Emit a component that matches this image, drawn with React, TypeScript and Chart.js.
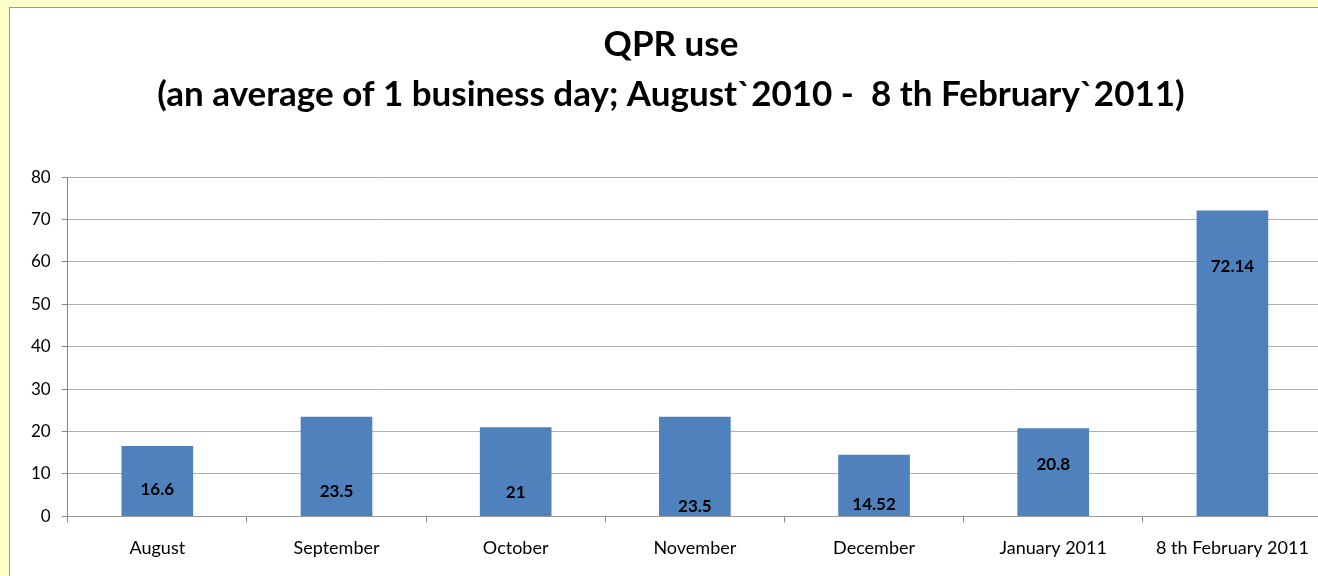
import React, { useEffect, useRef } from "react";
import { Chart, registerables } from "chart.js";

Chart.register(...registerables);

const categories = ["August", "September", "October", "November", "December", "January 2011", "8 th February 2011"];
const usage = [16.6, 23.5, 21, 23.5, 14.52, 20.8, 72.14];
const valueLabels = ["16.6", "23.5", "21", "23.5", "14.52", "20.8", "72.14"];
// vertical anchor of each value label, in data units
const labelAnchors = [6.4, 5.9, 5.7, 2.4, 2.8, 12.3, 59];
const titleLines = ["QPR use", "(an average of 1 business day; August`2010 -  8 th February`2011)"];

const FONT = "Lato, 'Open Sans', sans-serif";

const labelPlugin = {
  id: "valueLabels",
  afterDatasetsDraw(chart: any) {
    const { ctx } = chart;
    const meta = chart.getDatasetMeta(0);
    const yScale = chart.scales.y;
    ctx.save();
    ctx.font = `bold 17px ${FONT}`;
    ctx.fillStyle = "#000";
    ctx.textAlign = "center";
    ctx.textBaseline = "middle";
    meta.data.forEach((bar: any, i: number) => {
      ctx.fillText(valueLabels[i], bar.x, yScale.getPixelForValue(labelAnchors[i]));
    });
    ctx.restore();
  },
};

export default function App() {
  const ref = useRef<HTMLCanvasElement>(null);
  useEffect(() => {
    const chart = new Chart(ref.current!, {
      type: "bar",
      data: {
        labels: categories,
        datasets: [
          {
            data: usage,
            backgroundColor: "#4F81BD",
            barPercentage: 0.4,
            categoryPercentage: 1,
          },
        ],
      },
      options: {
        animation: false,
        responsive: false,
        layout: { padding: { top: 0, right: 18, bottom: 32, left: 10 } },
        plugins: {
          legend: { display: false },
          tooltip: { enabled: false },
          title: {
            display: true,
            text: titleLines,
            color: "#000",
            font: { family: FONT, size: 35, weight: "bold", lineHeight: 1.43 },
            padding: { top: 12, bottom: 57 },
          },
        },
        scales: {
          x: {
            offset: true,
            grid: {
              offset: true,
              drawOnChartArea: false,
              tickLength: 6,
              tickColor: "#888",
            },
            border: { display: true, color: "#999" },
            ticks: { color: "#000", font: { family: FONT, size: 18 }, padding: 15, maxRotation: 0, autoSkip: false },
          },
          y: {
            min: 0,
            max: 80,
            ticks: { stepSize: 10, color: "#000", font: { family: FONT, size: 17 }, padding: 11 },
            grid: { color: "#b0b0b0", tickLength: 6, tickColor: "#888" },
            border: { display: true, color: "#888" },
          },
        },
      },
      plugins: [labelPlugin],
    });
    return () => chart.destroy();
  }, []);
  return (
    <div style={{ position: "fixed", inset: 0, background: "#FFFFCC", overflow: "hidden" }}>
      <div
        style={{
          position: "absolute",
          left: 9,
          top: 7,
          width: 1340,
          height: 600,
          background: "#fff",
          border: "1px solid #999",
        }}
      >
        <canvas ref={ref} width={1330} height={598} />
      </div>
    </div>
  );
}
